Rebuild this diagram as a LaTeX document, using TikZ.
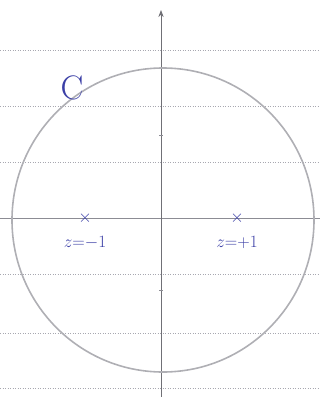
\documentclass[tikz,border=0pt]{standalone}
\usetikzlibrary{arrows.meta,positioning}
\definecolor{ink}{HTML}{3B3FA6}
\definecolor{pencil}{HTML}{8C8C94}
\definecolor{rule}{HTML}{A8A8B0}
\tikzset{>=Stealth,
  axis/.style={->,draw=pencil!80!black,line width=.9pt},
  ruling/.style={draw=rule,dotted,line width=.5pt},
  contour/.style={draw=pencil!70,line width=1.6pt},
  pole/.style={ink,font=\fontsize{16}{16}\selectfont\bfseries,inner sep=0pt},
  inklabel/.style={ink,font=\fontsize{17}{17}\selectfont}}
\begin{document}
\begin{tikzpicture}[x=1pt,y=-1pt]
\useasboundingbox (0,0) rectangle (320,397);
% ruled lines of the paper
\foreach \yy in {50,106,162,274,333,388}
  \draw[ruling] (0,\yy)--(320,\yy);
\draw[ruling] (0,218)--(320,218);
% axes
\coordinate (xl) at (0,218);\coordinate (xr) at (320,218);
\coordinate (yb) at (161,397);\coordinate (yt) at (161,10);
\draw[draw=pencil,line width=.8pt] (xl)--(xr);
\draw[axis] (yb)--(yt);
\draw[pencil,line width=.6pt] (159,135)--(163,135) (159,290)--(163,290);
% contour C
\draw[contour] (163,220) ellipse [x radius=151,y radius=152];
\node[ink,font=\fontsize{34}{34}\selectfont] (clabel) at (72,88) {C};
% poles
\node[pole] (pm) at (85,218) {$\times$};
\node[pole] (pp) at (237,218) {$\times$};
\node[inklabel,below=9pt of pm] (lm) {$z{=}{-}1$};
\node[inklabel,below=9pt of pp] (lp) {$z{=}{+}1$};
\end{tikzpicture}
\end{document}
